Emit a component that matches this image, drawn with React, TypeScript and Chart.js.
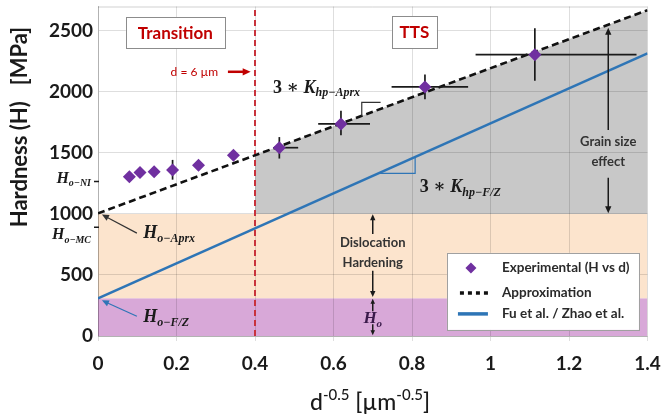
import React, { useEffect, useRef } from 'react';
import { Chart, registerables } from 'chart.js';
Chart.register(...registerables);

// ---- data ----
const xTickValues = [0, 0.2, 0.4, 0.6, 0.8, 1, 1.2, 1.4];
const yTickValues = [0, 500, 1000, 1500, 2000, 2500];

const expD = [0.080, 0.107, 0.143, 0.190, 0.256, 0.345, 0.462, 0.619, 0.833, 1.113];
const expH = [1305, 1340, 1346, 1360, 1400, 1481, 1543, 1738, 2041, 2305];
const expDLow: (number | null)[] = [null, null, null, null, null, null, 0.449, 0.561, 0.748, 0.962];
const expDHigh: (number | null)[] = [null, null, null, null, null, null, 0.510, 0.693, 0.943, 1.372];
const expHLow: (number | null)[] = [null, null, null, 1281, null, null, 1454, 1644, 1940, 2092];
const expHHigh: (number | null)[] = [null, null, null, 1443, null, null, 1630, 1846, 2143, 2522];

const approxD = [0, 1.4];
const approxH = [1005, 2670];
const fuZhaoD = [0, 1.4];
const fuZhaoH = [308, 2316];

const transitionD = 0.4;
const hoBandTop = 310;
const dislocationTop = 1000;
const grainD = [0.4, 1.4];
const grainTop = [1481, 2670];

const SANS = 'Lato, "Open Sans", sans-serif';
const SERIF = '"Liberation Serif", "DejaVu Serif", serif';

type Seg = { t: string; sub?: boolean; italic?: boolean };

function drawMath(ctx: CanvasRenderingContext2D, x: number, y: number, segs: Seg[], size: number, color: string, align: 'left' | 'right' | 'center' = 'left') {
  const fontFor = (s: Seg) => `${s.italic ? 'italic ' : ''}bold ${s.sub ? Math.round(size * 0.64) : size}px ${SERIF}`;
  let total = 0;
  const widths: number[] = [];
  for (const s of segs) { ctx.font = fontFor(s); const w = ctx.measureText(s.t).width; widths.push(w); total += w; }
  let cx = align === 'right' ? x - total : align === 'center' ? x - total / 2 : x;
  ctx.fillStyle = color;
  ctx.textAlign = 'left';
  ctx.textBaseline = 'alphabetic';
  segs.forEach((s, i) => {
    ctx.font = fontFor(s);
    ctx.fillText(s.t, cx, s.sub ? y + size * 0.22 : y);
    cx += widths[i];
  });
}

function arrow(ctx: CanvasRenderingContext2D, x1: number, y1: number, x2: number, y2: number, color: string, lw: number, head: number) {
  const a = Math.atan2(y2 - y1, x2 - x1);
  ctx.save();
  ctx.strokeStyle = color; ctx.fillStyle = color; ctx.lineWidth = lw; ctx.setLineDash([]);
  ctx.beginPath();
  ctx.moveTo(x1, y1);
  ctx.lineTo(x2 - Math.cos(a) * head * 0.8, y2 - Math.sin(a) * head * 0.8);
  ctx.stroke();
  ctx.beginPath();
  ctx.moveTo(x2, y2);
  ctx.lineTo(x2 - head * Math.cos(a) + head * 0.45 * Math.sin(a), y2 - head * Math.sin(a) - head * 0.45 * Math.cos(a));
  ctx.lineTo(x2 - head * Math.cos(a) - head * 0.45 * Math.sin(a), y2 - head * Math.sin(a) + head * 0.45 * Math.cos(a));
  ctx.closePath();
  ctx.fill();
  ctx.restore();
}

const annotPlugin = {
  id: 'annot',
  beforeDatasetDraw(chart: any, args: any) {
    if (args.index !== 0) return;
    const ctx = chart.ctx as CanvasRenderingContext2D;
    const xs = chart.scales.x, ys = chart.scales.y;
    ctx.save();
    ctx.strokeStyle = '#1a1a1a';
    ctx.lineWidth = 1.7;
    for (let i = 0; i < expD.length; i++) {
      const lo = expDLow[i], hi = expDHigh[i];
      if (lo != null && hi != null) {
        ctx.beginPath();
        ctx.moveTo(xs.getPixelForValue(lo), ys.getPixelForValue(expH[i]));
        ctx.lineTo(xs.getPixelForValue(hi), ys.getPixelForValue(expH[i]));
        ctx.stroke();
      }
      const ylo = expHLow[i], yhi = expHHigh[i];
      if (ylo != null && yhi != null) {
        ctx.beginPath();
        ctx.moveTo(xs.getPixelForValue(expD[i]), ys.getPixelForValue(ylo));
        ctx.lineTo(xs.getPixelForValue(expD[i]), ys.getPixelForValue(yhi));
        ctx.stroke();
      }
    }
    ctx.restore();
  },
  afterDraw(chart: any) {
    const ctx = chart.ctx as CanvasRenderingContext2D;
    const xs = chart.scales.x, ys = chart.scales.y;
    const area = chart.chartArea;
    const X = (v: number) => xs.getPixelForValue(v);
    const Y = (v: number) => ys.getPixelForValue(v);
    ctx.save();

    // top border
    ctx.strokeStyle = 'rgba(0,0,0,0.18)';
    ctx.lineWidth = 1;
    ctx.beginPath();
    ctx.moveTo(area.left, area.top + 0.5);
    ctx.lineTo(area.right, area.top + 0.5);
    ctx.stroke();

    // text boxes
    const box = (cxv: number, cyv: number, w: number, h: number, text: string) => {
      const cx = X(cxv), cy = Y(cyv);
      ctx.fillStyle = '#ffffff';
      ctx.fillRect(cx - w / 2, cy - h / 2, w, h);
      ctx.strokeStyle = '#8c8c8c';
      ctx.lineWidth = 1;
      ctx.strokeRect(Math.round(cx - w / 2) + 0.5, Math.round(cy - h / 2) + 0.5, w, h);
      ctx.fillStyle = '#c00000';
      ctx.font = `bold 17px ${SANS}`;
      ctx.textAlign = 'center';
      ctx.textBaseline = 'middle';
      ctx.fillText(text, cx, cy + 1);
    };
    box(0.197, 2485, 99, 31, 'Transition');
    box(0.806, 2491, 45, 32, 'TTS');

    // d = 6 µm
    ctx.fillStyle = '#c00000';
    ctx.font = `12px ${SANS}`;
    ctx.textAlign = 'right';
    ctx.textBaseline = 'middle';
    ctx.fillText('d = 6 µm', X(0.306), Y(2165));
    arrow(ctx, X(0.331), Y(2165), X(0.389), Y(2165), '#c00000', 2.5, 8);

    // slope labels
    drawMath(ctx, X(0.446), Y(1995), [{ t: '3 ∗ ' }, { t: 'K', italic: true }, { t: 'hp−Aprx', italic: true, sub: true }], 18, '#1a1a1a');
    ctx.strokeStyle = '#333'; ctx.lineWidth = 1.2;
    ctx.beginPath();
    ctx.moveTo(X(0.672), Y(1804)); ctx.lineTo(X(0.672), Y(1915)); ctx.lineTo(X(0.72), Y(1915));
    ctx.stroke();

    drawMath(ctx, X(0.820), Y(1176), [{ t: '3 ∗ ' }, { t: 'K', italic: true }, { t: 'hp−F/Z', italic: true, sub: true }], 18, '#1a1a1a');
    ctx.strokeStyle = '#2e75b6'; ctx.lineWidth = 1.2;
    ctx.beginPath();
    ctx.moveTo(X(0.716), Y(1332)); ctx.lineTo(X(0.808), Y(1332)); ctx.lineTo(X(0.808), Y(1467));
    ctx.stroke();

    // Grain size effect
    ctx.fillStyle = '#333';
    ctx.font = `bold 13px ${SANS}`;
    ctx.textAlign = 'center';
    ctx.textBaseline = 'middle';
    ctx.fillText('Grain size', X(1.3), Y(1589));
    ctx.fillText('effect', X(1.3), Y(1427));
    arrow(ctx, X(1.3), Y(1687), X(1.3), Y(2525), '#1a1a1a', 1.5, 7);
    arrow(ctx, X(1.3), Y(1297), X(1.3), Y(1005), '#1a1a1a', 1.5, 7);

    // Dislocation hardening
    ctx.fillStyle = '#333';
    ctx.fillText('Dislocation', X(0.7), Y(765));
    ctx.fillText('Hardening', X(0.7), Y(602));
    arrow(ctx, X(0.7), Y(835), X(0.7), Y(997), '#1a1a1a', 1.5, 6);
    arrow(ctx, X(0.7), Y(535), X(0.7), Y(320), '#1a1a1a', 1.5, 6);
    arrow(ctx, X(0.7), Y(203), X(0.7), Y(305), '#1a1a1a', 1.5, 5);
    arrow(ctx, X(0.7), Y(97), X(0.7), Y(6), '#1a1a1a', 1.5, 5);
    drawMath(ctx, X(0.7), Y(105), [{ t: 'H', italic: true }, { t: 'o', italic: true, sub: true }], 17, '#3a1a4a', 'center');

    // left labels
    drawMath(ctx, area.left - 7, Y(1257), [{ t: 'H', italic: true }, { t: 'o−NI', italic: true, sub: true }], 16, '#1a1a1a', 'right');
    drawMath(ctx, area.left - 7, Y(795), [{ t: 'H', italic: true }, { t: 'o−MC', italic: true, sub: true }], 16, '#1a1a1a', 'right');
    ctx.strokeStyle = '#1a1a1a'; ctx.lineWidth = 1.5;
    ctx.beginPath();
    ctx.moveTo(area.left - 4, Y(1265)); ctx.lineTo(area.left + 1, Y(1265));
    ctx.moveTo(area.left - 4, Y(892)); ctx.lineTo(area.left + 1, Y(892));
    ctx.stroke();

    drawMath(ctx, X(0.115), Y(805), [{ t: 'H', italic: true }, { t: 'o−Aprx', italic: true, sub: true }], 18, '#1a1a1a');
    arrow(ctx, X(0.099), Y(843), X(0.01), Y(995), '#333', 1.2, 7);
    drawMath(ctx, X(0.115), Y(116), [{ t: 'H', italic: true }, { t: 'o−F/Z', italic: true, sub: true }], 18, '#1a1a1a');
    arrow(ctx, X(0.099), Y(162), X(0.01), Y(292), '#2e75b6', 1.2, 7);

    // legend
    const ds = chart.data.datasets;
    const lx = X(0.889), ly = Y(681);
    ctx.fillStyle = '#ffffff';
    ctx.fillRect(lx, ly, 192, 77);
    ctx.strokeStyle = '#a0a0a0'; ctx.lineWidth = 1;
    ctx.strokeRect(Math.round(lx) + 0.5, Math.round(ly) + 0.5, 192, 77);
    const dx = lx + 24, dy = ly + 15;
    ctx.fillStyle = '#7030a0';
    ctx.beginPath();
    ctx.moveTo(dx, dy - 5.5); ctx.lineTo(dx + 5.5, dy); ctx.lineTo(dx, dy + 5.5); ctx.lineTo(dx - 5.5, dy); ctx.closePath();
    ctx.fill();
    ctx.strokeStyle = '#111'; ctx.lineWidth = 3.5; ctx.setLineDash([4, 4]);
    ctx.beginPath(); ctx.moveTo(lx + 13, ly + 40); ctx.lineTo(lx + 42, ly + 40); ctx.stroke();
    ctx.setLineDash([]);
    ctx.strokeStyle = '#2e75b6'; ctx.lineWidth = 3.5;
    ctx.beginPath(); ctx.moveTo(lx + 11, ly + 61); ctx.lineTo(lx + 41, ly + 61); ctx.stroke();
    ctx.fillStyle = '#2a2a2a';
    ctx.font = `bold 13.5px ${SANS}`;
    ctx.textAlign = 'left'; ctx.textBaseline = 'middle';
    ctx.fillText(ds[0].label, lx + 55, dy);
    ctx.fillText(ds[1].label, lx + 55, ly + 40);
    ctx.fillText(ds[2].label, lx + 55, ly + 61);

    // axis titles
    ctx.fillStyle = '#1a1a1a';
    ctx.textBaseline = 'alphabetic';
    const parts: { t: string; sup?: boolean }[] = [{ t: 'd' }, { t: '-0.5', sup: true }, { t: ' [µm' }, { t: '-0.5', sup: true }, { t: ']' }];
    const mainF = `500 23px ${SANS}`, supF = `500 15px ${SANS}`;
    let tw = 0; const ws: number[] = [];
    for (const p of parts) { ctx.font = p.sup ? supF : mainF; const w = ctx.measureText(p.t).width; ws.push(w); tw += w; }
    let cx = 370 - tw / 2;
    ctx.textAlign = 'left';
    parts.forEach((p, i) => { ctx.font = p.sup ? supF : mainF; ctx.fillText(p.t, cx, p.sup ? 400 : 410); cx += ws[i]; });

    ctx.save();
    ctx.translate(20, 127);
    ctx.rotate(-Math.PI / 2);
    ctx.font = `bold 22px ${SANS}`;
    ctx.textAlign = 'center'; ctx.textBaseline = 'middle';
    ctx.fillText('Hardness (H)   [MPa]', 0, 0);
    ctx.restore();

    ctx.restore();
  },
};

export default function App() {
  const ref = useRef<HTMLCanvasElement | null>(null);
  useEffect(() => {
    if (!ref.current) return;
    const line = (xs: number[], ys: number[]) => xs.map((x, i) => ({ x, y: ys[i] }));
    const chart = new Chart(ref.current, {
      type: 'scatter',
      data: {
        datasets: [
          {
            label: 'Experimental (H vs d)',
            data: line(expD, expH),
            pointStyle: 'rectRot',
            pointRadius: 6.5,
            backgroundColor: '#7030a0',
            borderColor: '#7030a0',
            borderWidth: 0,
          },
          {
            label: 'Approximation',
            data: line(approxD, approxH),
            showLine: true,
            borderColor: '#111111',
            borderWidth: 2.6,
            borderDash: [7, 4],
            pointRadius: 0,
          },
          {
            label: 'Fu et al. / Zhao et al.',
            data: line(fuZhaoD, fuZhaoH),
            showLine: true,
            borderColor: '#2e75b6',
            borderWidth: 2.6,
            pointRadius: 0,
          },
          {
            label: 'transition',
            data: line([transitionD, transitionD], [0, 2700]),
            showLine: true,
            borderColor: '#c8323c',
            borderWidth: 2,
            borderDash: [6, 4],
            pointRadius: 0,
          },
          {
            label: 'grain',
            data: line(grainD, grainTop),
            showLine: true,
            borderWidth: 0,
            borderColor: 'rgba(0,0,0,0)',
            backgroundColor: '#c8c8c8',
            fill: { value: dislocationTop },
            pointRadius: 0,
          },
          {
            label: 'dislocation',
            data: line([0, 1.4], [dislocationTop, dislocationTop]),
            showLine: true,
            borderWidth: 0,
            borderColor: 'rgba(0,0,0,0)',
            backgroundColor: '#fce4cd',
            fill: { value: hoBandTop },
            pointRadius: 0,
          },
          {
            label: 'ho',
            data: line([0, 1.4], [hoBandTop, hoBandTop]),
            showLine: true,
            borderWidth: 0,
            borderColor: 'rgba(0,0,0,0)',
            backgroundColor: '#d8a8d8',
            fill: 'origin',
            pointRadius: 0,
          },
        ] as any,
      },
      options: {
        animation: false,
        responsive: false,
        events: [],
        layout: { padding: { top: 3, right: 15.5, left: 0, bottom: 0 } },
        plugins: {
          legend: { display: false },
          tooltip: { enabled: false },
          filler: { drawTime: 'beforeDraw' } as any,
        },
        scales: {
          x: {
            type: 'linear',
            min: 0,
            max: 1.4,
            afterBuildTicks: (s: any) => { s.ticks = xTickValues.map((v) => ({ value: v })); },
            afterFit: (s: any) => { s.height = 82; s.paddingLeft = 0; s.paddingRight = 0; },
            ticks: {
              callback: (v: any) => String(Number(Number(v).toFixed(1))),
              font: { family: SANS, size: 19, weight: 'bold' },
              color: '#1a1a1a',
              padding: 11,
              maxRotation: 0,
            },
            grid: { color: 'rgba(0,0,0,0.13)', tickLength: 5, drawTicks: true },
            border: { display: true, color: 'rgba(0,0,0,0.2)' },
          },
          y: {
            type: 'linear',
            min: 0,
            max: 2700,
            afterBuildTicks: (s: any) => { s.ticks = yTickValues.map((v) => ({ value: v })); },
            afterFit: (s: any) => { s.width = 98; s.paddingTop = 0; s.paddingBottom = 0; },
            ticks: {
              callback: (v: any) => String(v),
              font: { family: SANS, size: 19, weight: 'bold' },
              color: '#1a1a1a',
              padding: 5,
            },
            grid: { color: 'rgba(0,0,0,0.13)', drawTicks: false },
            border: { display: true, color: 'rgba(0,0,0,0.2)' },
          },
        },
      } as any,
      plugins: [annotPlugin as any],
    });
    return () => chart.destroy();
  }, []);
  return (
    <div style={{ position: 'absolute', left: 0, top: 0, width: 663, height: 418, background: '#fff' }}>
      <canvas ref={ref} width={663} height={418} />
    </div>
  );
}
